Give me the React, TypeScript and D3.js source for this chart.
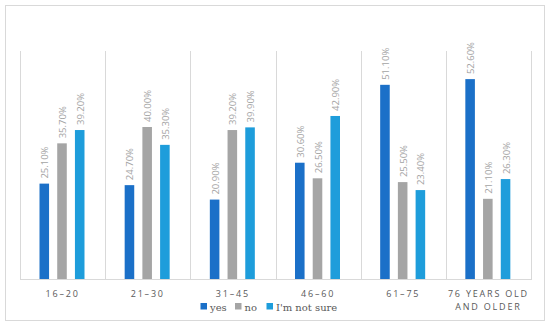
import React from "react";
import * as d3 from "d3";

const categories = ["16–20", "21–30", "31–45", "46–60", "61–75", "76 YEARS OLD|AND OLDER"];
const seriesNames = ["yes", "no", "I'm not sure"];
const yesValues = [25.1, 24.7, 20.9, 30.6, 51.1, 52.6];
const noValues = [35.7, 40.0, 39.2, 26.5, 25.5, 21.1];
const notSureValues = [39.2, 35.3, 39.9, 42.9, 23.4, 26.3];
const colors = ["#1B70C8", "#A5A5A5", "#1E9DDB"];

export default function App() {
  const width = 550;
  const height = 325;
  const plot = { left: 20, right: 531, top: 51, bottom: 279 };

  const series = [yesValues, noValues, notSureValues];

  const x0 = d3.scaleBand<string>().domain(categories).range([plot.left, plot.right]);
  // bars sit in the middle of each band, narrow and spaced out
  const x1 = d3
    .scaleBand<number>()
    .domain([0, 1, 2])
    .range([19.5, 19.5 + 45])
    .paddingInner(0.46);
  const y = d3.scaleLinear().domain([0, 60]).range([plot.bottom, plot.top]);

  const grid = "#D9D9D9";
  const labelColor = "#A3A3A3";
  const textColor = "#595959";

  const legendItems = [
    { x: 200.5, textX: 210 },
    { x: 235, textX: 244.5 },
    { x: 266.5, textX: 276 },
  ];

  return (
    <svg width={width} height={height} style={{ position: "absolute", left: 0, top: 0 }}>
      <rect x={0} y={0} width={width} height={height} fill="#fff" />
      <rect x={5.5} y={5.5} width={539} height={315} fill="#fff" stroke={grid} strokeWidth={1} />

      {/* vertical separators */}
      {categories.map((c, i) => (
        <line
          key={"g" + i}
          x1={Math.round(x0(c)!) + 0.5}
          x2={Math.round(x0(c)!) + 0.5}
          y1={plot.top}
          y2={plot.bottom}
          stroke={grid}
        />
      ))}
      <line x1={plot.right + 0.5} x2={plot.right + 0.5} y1={plot.top} y2={plot.bottom} stroke={grid} />
      <line x1={plot.left} x2={plot.right + 1} y1={plot.bottom + 0.5} y2={plot.bottom + 0.5} stroke={grid} />

      {categories.map((c, i) => (
        <g key={c} transform={`translate(${x0(c)},0)`}>
          {series.map((vals, s) => {
            const bx = x1(s)!;
            const bw = x1.bandwidth();
            const top = y(vals[i]);
            const cx = bx + bw / 2;
            const ty = top - 5;
            return (
              <g key={s}>
                <rect x={bx} y={top} width={bw} height={plot.bottom - top} fill={colors[s]} />
                <text
                  transform={`translate(${cx + 0.5},${ty}) rotate(-90)`}
                  textAnchor="start"
                  dominantBaseline="central"
                  fontFamily="'Open Sans', sans-serif"
                  fontSize={9.5}
                  fill={labelColor}
                >
                  {vals[i].toFixed(2) + "%"}
                </text>
              </g>
            );
          })}
          {c.split("|").map((line, k) => (
            <text
              key={k}
              x={x0.bandwidth() / 2}
              y={297 + k * 12.5}
              textAnchor="middle"
              fontFamily="'Open Sans', sans-serif"
              fontSize={9}
              letterSpacing={1.8}
              fill={textColor}
            >
              {line}
            </text>
          ))}
        </g>
      ))}

      {/* legend */}
      {seriesNames.map((name, s) => (
        <g key={name}>
          <rect x={legendItems[s].x} y={303} width={6.5} height={6.5} fill={colors[s]} />
          <text
            x={legendItems[s].textX}
            y={310.5}
            fontFamily="'DejaVu Serif', serif"
            fontSize={10}
            fill={textColor}
          >
            {name}
          </text>
        </g>
      ))}
    </svg>
  );
}
